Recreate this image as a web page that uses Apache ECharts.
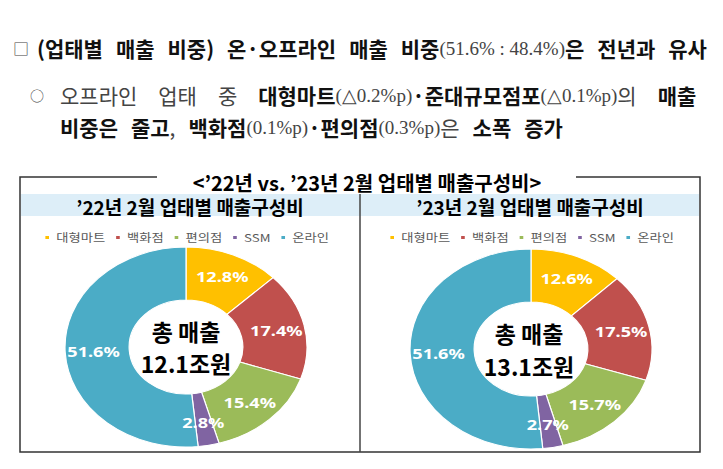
<!DOCTYPE html>
<html>
<head>
<meta charset="utf-8">
<script src="https://cdn.jsdelivr.net/npm/echarts@6/dist/echarts.min.js"></script>
<style>
  html, body { margin: 0; padding: 0; background: #fff; }
  #main { position: absolute; left: 0; top: 0; width: 723px; height: 469px; }
  /* 원본 그림의 도넛이 가로로 늘어나 있어서 파이 영역만 가로로 늘림 */
  .pie { position: absolute; top: 222px; width: 270px; height: 230px; transform: scaleX(1.21); transform-origin: 50% 50%; }
  #pie1 { left: 51px; }
  #pie2 { left: 396px; }
</style>
</head>
<body>
<div id="main"></div>
<div id="pie1" class="pie"></div>
<div id="pie2" class="pie"></div>
<script>
// 업태 구분
var categories = ['대형마트', '백화점', '편의점', 'SSM', '온라인'];
// 업태별 매출 구성비 (%)
var share22 = [12.8, 17.4, 15.4, 2.8, 51.6];
var share23 = [12.6, 17.5, 15.7, 2.7, 51.6];
// 패널 제목, 총 매출
var panelTitles = ['’22년 2월 업태별 매출구성비', '’23년 2월 업태별 매출구성비'];
var totalSales = ['12.1조원', '13.1조원'];

var colors = ['#FFC000', '#C0504D', '#9BBB59', '#8064A2', '#4BACC6'];
var KR = '"Noto Sans CJK KR", sans-serif';

// 본문 글꼴
function richStyles(sp) {
  return {
    b: { fontFamily: KR, fontWeight: 'bold', fontSize: 21, fill: '#111' },
    r: { fontFamily: KR, fontWeight: 'normal', fontSize: 21, fill: '#444' },
    q: { fontFamily: KR, fontWeight: 'normal', fontSize: 16, fill: '#444' },
    s: { fontFamily: '"Liberation Serif", serif', fontSize: 19, fill: '#444' },
    sp: { width: sp },
    sq: { width: 8 }
  };
}

var main = echarts.init(document.getElementById('main'), null, { renderer: 'svg' });
main.setOption({
  animation: false,
  graphic: [
    // 상단 설명 문장
    {
      type: 'text', x: 13, y: 48,
      style: {
        text: '{q|□}{sq| }{b|(업태별}{sp| }{b|매출}{sp| }{b|비중)}{sp| }{b|온·오프라인}{sp| }{b|매출}{sp| }{b|비중}{s|(51.6% : 48.4%)}{b|은}{sp| }{b|전년과}{sp| }{b|유사}',
        rich: richStyles(13), textVerticalAlign: 'middle'
      }
    },
    {
      type: 'text', x: 30, y: 95,
      style: { text: '○', font: '14px ' + KR, fill: '#444', textVerticalAlign: 'middle' }
    },
    {
      type: 'text', x: 60, y: 95,
      style: {
        text: '{r|오프라인}{sp| }{r|업태}{sp| }{r|중}{sp| }{b|대형마트}{s|(△0.2%p)}{b|·}{b|준대규모점포}{s|(△0.1%p)}{r|의}{sp| }{b|매출}',
        rich: richStyles(21), textVerticalAlign: 'middle'
      }
    },
    {
      type: 'text', x: 60, y: 127,
      style: {
        text: '{b|비중은}{sp| }{b|줄고}{r|,}{sp| }{b|백화점}{s|(0.1%p)}{b|·}{b|편의점}{s|(0.3%p)}{r|은}{sp| }{b|소폭}{sp| }{b|증가}',
        rich: richStyles(13), textVerticalAlign: 'middle'
      }
    },
    // 테두리
    {
      type: 'polyline',
      shape: { points: [[157, 177], [20, 177], [20, 452], [700, 452], [700, 177], [576, 177]] },
      style: { stroke: '#333', lineWidth: 1.5, fill: null }
    },
    {
      type: 'rect', shape: { x: 21, y: 194, width: 678, height: 22 },
      style: { fill: '#DDEEF8' }
    },
    {
      type: 'line', shape: { x1: 360, y1: 194, x2: 360, y2: 452 },
      style: { stroke: '#444', lineWidth: 1.5 }
    },
    {
      type: 'text', x: 367, y: 182,
      style: { text: '<’22년 vs. ’23년 2월 업태별 매출구성비>', font: 'bold 20px ' + KR, fill: '#000', textAlign: 'center', textVerticalAlign: 'middle' }
    },
    {
      type: 'text', x: 190, y: 206,
      style: { text: panelTitles[0], font: 'bold 19px ' + KR, fill: '#000', textAlign: 'center', textVerticalAlign: 'middle' }
    },
    {
      type: 'text', x: 530, y: 206,
      style: { text: panelTitles[1], font: 'bold 19px ' + KR, fill: '#000', textAlign: 'center', textVerticalAlign: 'middle' }
    },
    // 도넛 가운데 총 매출
    {
      type: 'text', x: 186, y: 331,
      style: { text: '총 매출', font: 'bold 23px ' + KR, fill: '#000', textAlign: 'center', textVerticalAlign: 'middle' }
    },
    {
      type: 'text', x: 186, y: 363,
      style: { text: totalSales[0], font: 'bold 23px ' + KR, fill: '#000', textAlign: 'center', textVerticalAlign: 'middle' }
    },
    {
      type: 'text', x: 529, y: 333,
      style: { text: '총 매출', font: 'bold 23px ' + KR, fill: '#000', textAlign: 'center', textVerticalAlign: 'middle' }
    },
    {
      type: 'text', x: 529, y: 366,
      style: { text: totalSales[1], font: 'bold 23px ' + KR, fill: '#000', textAlign: 'center', textVerticalAlign: 'middle' }
    }
  ]
});

// 도넛 차트 옵션
function pieOption(values, cy, legendPad) {
  return {
    animation: false,
    color: colors,
    legend: {
      top: 5, left: 'center', icon: 'rect', itemWidth: 5, itemHeight: 5, itemGap: 7,
      padding: legendPad,
      textStyle: { fontSize: 11, color: '#595959', fontFamily: KR },
      data: categories
    },
    series: [{
      type: 'pie',
      radius: [47, 100],
      center: ['50%', cy],
      startAngle: 90,
      clockwise: true,
      avoidLabelOverlap: false,
      itemStyle: { borderColor: '#fff', borderWidth: 1 },
      label: {
        position: 'inside',
        formatter: function (p) { return p.value.toFixed(1) + '%'; },
        color: '#fff', fontWeight: 'bold', fontSize: 15, fontFamily: '"Noto Sans", sans-serif'
      },
      labelLine: { show: false },
      emphasis: { disabled: true },
      data: categories.map(function (c, i) { return { name: c, value: values[i] }; })
    }]
  };
}

var pie1 = echarts.init(document.getElementById('pie1'), null, { renderer: 'svg' });
pie1.setOption(pieOption(share22, 125, [5, 0, 5, 16]));
var pie2 = echarts.init(document.getElementById('pie2'), null, { renderer: 'svg' });
pie2.setOption(pieOption(share23, 127, [5, 0, 5, 2]));
</script>
</body>
</html>
